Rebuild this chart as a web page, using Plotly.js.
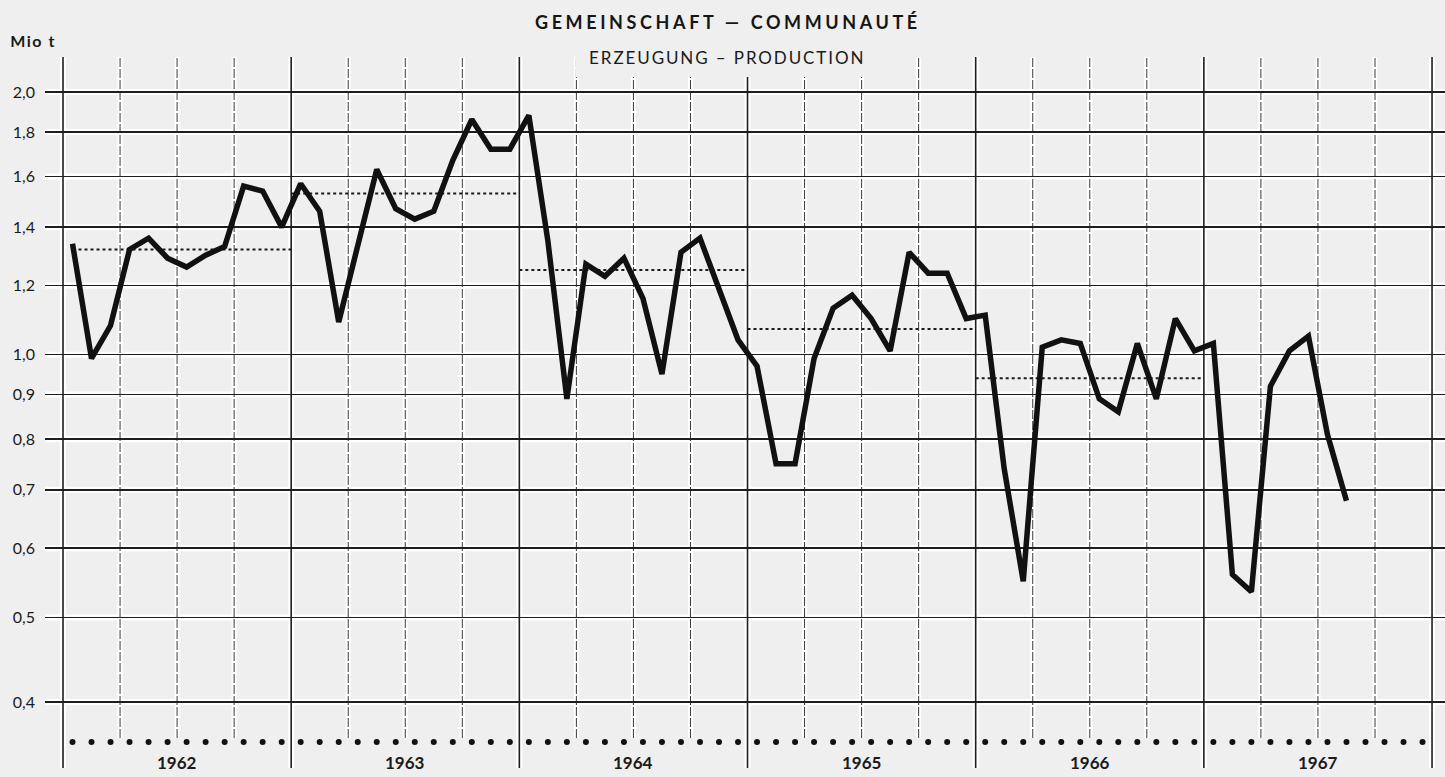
<!DOCTYPE html>
<html>
<head>
<meta charset="utf-8">
<script src="https://cdn.plot.ly/plotly-3.0.1.min.js"></script>
<style>
html,body{margin:0;padding:0;background:#efefef;}
#chart{width:1445px;height:777px;}
</style>
</head>
<body>
<div id="chart"></div>
<script>
// ---- data (Mio t, monthly) ----
const years = [1962, 1963, 1964, 1965, 1966, 1967];
const yearLabels = ['1962', '1963', '1964', '1965', '1966', '1967'];
const prod1962 = [1.34, 0.99, 1.08, 1.32, 1.36, 1.29, 1.26, 1.30, 1.33, 1.56, 1.54, 1.40];
const prod1963 = [1.57, 1.46, 1.09, 1.33, 1.63, 1.47, 1.43, 1.46, 1.67, 1.86, 1.72, 1.72];
const prod1964 = [1.88, 1.35, 0.89, 1.27, 1.23, 1.29, 1.16, 0.95, 1.31, 1.36, 1.19, 1.04];
const prod1965 = [0.97, 0.75, 0.75, 0.99, 1.13, 1.17, 1.10, 1.01, 1.31, 1.24, 1.24, 1.10];
const prod1966 = [1.11, 0.74, 0.55, 1.02, 1.04, 1.03, 0.89, 0.86, 1.03, 0.89, 1.10, 1.01];
const prod1967 = [1.03, 0.56, 0.535, 0.92, 1.01, 1.05, 0.81, 0.68];
const annualMeanYears = [1962, 1963, 1964, 1965, 1966];
const annualMean = [1.32, 1.53, 1.25, 1.07, 0.94];
const yTickVals = [0.4, 0.5, 0.6, 0.7, 0.8, 0.9, 1.0, 1.2, 1.4, 1.6, 1.8, 2.0];
const yTickText = ['0,4', '0,5', '0,6', '0,7', '0,8', '0,9', '1,0', '1,2', '1,4', '1,6', '1,8', '2,0'];
const monthMarkerLevel = 0.36;
const titleText = 'GEMEINSCHAFT — COMMUNAUTÉ';
const subtitleText = 'ERZEUGUNG – PRODUCTION';
const unitText = 'Mio t';

// ---- build series ----
const series = [prod1962, prod1963, prod1964, prod1965, prod1966, prod1967];
const lineX = [], lineY = [];
series.forEach((vals, k) => vals.forEach((v, m) => {
  lineX.push(years[k] + (m + 0.5) / 12);
  lineY.push(v);
}));
const dotX = [], dotY = [];
years.forEach(yr => { for (let m = 0; m < 12; m++) { dotX.push(yr + (m + 0.5) / 12); dotY.push(monthMarkerLevel); } });

const YR = [-0.4736, 0.3411];
const XR = [1961.9211, 1968.0568];
const toPaperY = v => (Math.log10(v) - YR[0]) / (YR[1] - YR[0]);

const traces = [];
annualMeanYears.forEach((yr, k) => {
  traces.push({
    type: 'scatter', mode: 'lines',
    x: [k === 0 ? yr + 0.5 / 12 : yr, yr + 1],
    y: [annualMean[k], annualMean[k]],
    line: {color: '#1a1a1a', width: 2, dash: 'dot'},
    hoverinfo: 'skip', showlegend: false
  });
});
traces.push({
  type: 'scatter', mode: 'lines', x: lineX, y: lineY,
  line: {color: '#111111', width: 5.5},
  showlegend: false
});
traces.push({
  type: 'scatter', mode: 'markers', x: dotX, y: dotY,
  marker: {color: '#111111', size: 6},
  hoverinfo: 'skip', showlegend: false
});

// ---- grid shapes ----
const shapes = [];
yTickVals.forEach(v => {
  const p = toPaperY(v);
  shapes.push({type: 'line', layer: 'below', xref: 'paper', yref: 'paper', x0: 0, x1: 1, y0: p, y1: p,
    line: {color: '#ffffff', width: 6}});
});
const qBottom = (768 - 738) / 711;
for (let yr = 1962; yr <= 1968; yr++) {
  shapes.push({type: 'line', layer: 'below', xref: 'x', yref: 'paper', x0: yr, x1: yr, y0: 0, y1: 1,
    line: {color: '#ffffff', width: 6}});
  shapes.push({type: 'line', layer: 'between', xref: 'x', yref: 'paper', x0: yr, x1: yr, y0: 0, y1: 1,
    line: {color: '#1e1e1e', width: 1.6}});
  if (yr < 1968) {
    [0.25, 0.5, 0.75].forEach(q => {
      shapes.push({type: 'line', layer: 'below', xref: 'x', yref: 'paper', x0: yr + q, x1: yr + q, y0: qBottom, y1: 1,
        line: {color: '#ffffff', width: 5}});
      shapes.push({type: 'line', layer: 'between', xref: 'x', yref: 'paper', x0: yr + q, x1: yr + q, y0: qBottom, y1: 1,
        line: {color: '#3a3a3a', width: 1, dash: '9px,2px'}});
    });
  }
}
shapes.push({type: 'rect', layer: 'between', xref: 'paper', yref: 'paper',
  x0: (576 - 45) / 1400, x1: (880 - 45) / 1400, y0: (768 - 77) / 711, y1: 1.05,
  line: {width: 0}, fillcolor: '#efefef'});

const annotations = [
  {text: titleText, xref: 'paper', yref: 'paper', x: (728 - 45) / 1400, y: (768 - 22) / 711,
   xanchor: 'center', yanchor: 'middle', showarrow: false,
   font: {family: 'Lato, DejaVu Sans, sans-serif', size: 18, color: '#151515', weight: 'bold'}},
  {text: subtitleText, xref: 'paper', yref: 'paper', x: (727 - 45) / 1400, y: (768 - 57) / 711,
   xanchor: 'center', yanchor: 'middle', showarrow: false,
   font: {family: 'Lato, DejaVu Sans, sans-serif', size: 17, color: '#1a1a1a'}},
  {text: unitText, xref: 'paper', yref: 'paper', x: (12 - 45) / 1400, y: (768 - 41) / 711,
   xanchor: 'left', yanchor: 'middle', showarrow: false,
   font: {family: 'Lato, DejaVu Sans, sans-serif', size: 16, color: '#1a1a1a', weight: 'bold'}}
];
years.forEach((yr, k) => annotations.push({
  text: yearLabels[k], xref: 'x', yref: 'paper', x: yr + 0.5, y: (768 - 762) / 711,
  xanchor: 'center', yanchor: 'middle', showarrow: false,
  font: {family: 'Lato, DejaVu Sans, sans-serif', size: 17, color: '#1a1a1a', weight: 'bold'}
}));

const layout = {
  width: 1445, height: 777,
  margin: {l: 45, r: 0, t: 57, b: 9, pad: 0},
  paper_bgcolor: '#efefef', plot_bgcolor: '#efefef',
  showlegend: false,
  xaxis: {range: XR, showgrid: false, zeroline: false, showline: false, showticklabels: false, ticks: '', fixedrange: true},
  yaxis: {type: 'log', range: YR, tickvals: yTickVals, ticktext: yTickText,
    showgrid: true, gridcolor: '#1e1e1e', gridwidth: 1.6, zeroline: false, showline: false, ticks: '',
    ticklabelstandoff: 9,
    tickfont: {family: 'Lato, DejaVu Sans, sans-serif', size: 16, color: '#1a1a1a'}, fixedrange: true},
  shapes: shapes,
  annotations: annotations
};

Plotly.newPlot('chart', traces, layout, {displayModeBar: false, staticPlot: true}).then(() => {
  document.querySelectorAll('.annotation-text').forEach(t => {
    if (t.textContent === titleText) t.style.letterSpacing = '3.6px';
    if (t.textContent === subtitleText) t.style.letterSpacing = '1.9px';
    if (t.textContent === unitText) t.style.letterSpacing = '1.5px';
  });
});
</script>
</body>
</html>
